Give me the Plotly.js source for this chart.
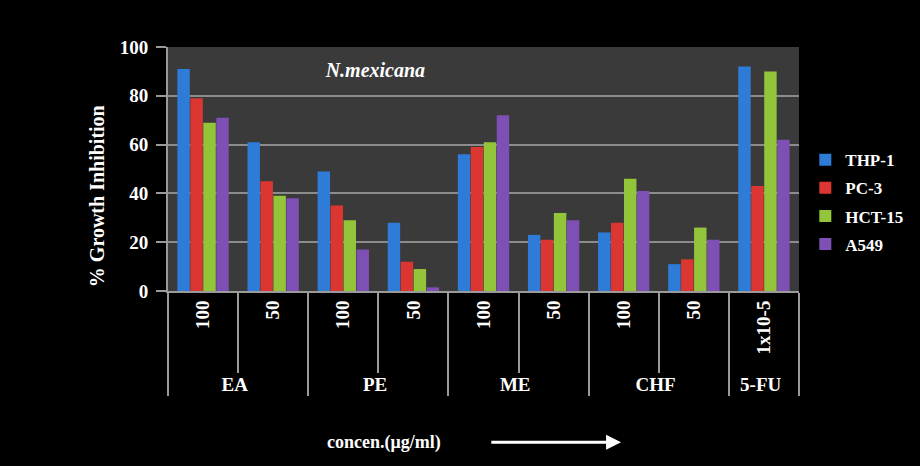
<!DOCTYPE html>
<html>
<head>
<meta charset="utf-8">
<script src="https://cdn.plot.ly/plotly-3.0.1.min.js"></script>
<style>html,body{margin:0;padding:0;background:#000;}#chart{width:920px;height:466px;}</style>
</head>
<body>
<div id="chart"></div>
<script>
// Data
const groups = ["EA", "EA", "PE", "PE", "ME", "ME", "CHF", "CHF", "5-FU"];
const concentrations = ["100", "50", "100", "50", "100", "50", "100", "50", "1x10-5"];
const seriesNames = ["THP-1", "PC-3", "HCT-15", "A549"];
const thp1  = [91, 61, 49, 28, 56, 23, 24, 11, 92];
const pc3   = [79, 45, 35, 12, 59, 21, 28, 13, 43];
const hct15 = [69, 39, 29, 9, 61, 32, 46, 26, 90];
const a549  = [71, 38, 17, 1.5, 72, 29, 41, 21, 62];
const yTicks = [0, 20, 40, 60, 80, 100];

const colors = ["#2f7bd8", "#dc3632", "#93c53a", "#7e4fb5"];
const values = [thp1, pc3, hct15, a549];
const serif = "Liberation Serif, Times New Roman, serif";

const traces = values.map((v, i) => ({
  type: "bar",
  name: seriesNames[i],
  x: [groups, concentrations],
  y: v,
  marker: {color: colors[i], line: {width: 0}},
  legendgroup: "g" + i
}));

const layout = {
  width: 920, height: 466,
  paper_bgcolor: "#000000",
  plot_bgcolor: "#3a3a3a",
  margin: {l: 168, r: 118, t: 47, b: 175},
  bargap: 0.26,
  bargroupgap: 0.04,
  showlegend: true,
  title: {
    text: "<b><i>N.mexicana</i></b>",
    font: {family: serif, size: 20, color: "#ffffff"},
    x: 0.408, xanchor: "center", y: 0.85, yanchor: "middle"
  },
  legend: {
    x: 1.01, xanchor: "left", y: 0.61, yanchor: "top",
    font: {family: serif, size: 17, color: "#ffffff", weight: "bold"},
    bgcolor: "rgba(0,0,0,0)",
    traceorder: "grouped",
    tracegroupgap: 3,
    itemwidth: 30
  },
  xaxis: {
    type: "multicategory",
    tickangle: -90,
    tickfont: {family: serif, size: 19, color: "#ffffff", weight: "bold"},
    showline: true, linecolor: "#9a9a9a", linewidth: 2,
    ticks: "outside", ticklen: 80, tickcolor: "#9a9a9a", tickwidth: 2,
    showdividers: true, dividercolor: "#9a9a9a", dividerwidth: 2,
    showgrid: false
  },
  yaxis: {
    range: [0, 100],
    tickvals: yTicks,
    ticktext: yTicks.map(String),
    tickfont: {family: serif, size: 19, color: "#ffffff", weight: "bold"},
    showline: true, linecolor: "#9a9a9a", linewidth: 2,
    ticks: "outside", ticklen: 10, tickcolor: "#9a9a9a", tickwidth: 2,
    ticklabelstandoff: 4,
    gridcolor: "#8c8c8c", gridwidth: 2,
    zeroline: false
  },
  annotations: [
    {
      xref: "paper", yref: "paper", x: -0.112, y: 0.39,
      text: "<b>% Growth Inhibition</b>", showarrow: false, textangle: -90,
      font: {family: serif, size: 20, color: "#ffffff"},
      xanchor: "center", yanchor: "middle"
    },
    {
      xref: "paper", yref: "paper", x: 0.343, y: -0.62,
      text: "<b>concen.(μg/ml)</b>", showarrow: false,
      font: {family: serif, size: 18, color: "#ffffff"},
      xanchor: "center", yanchor: "middle"
    },
    {
      xref: "paper", yref: "paper", x: 0.718, y: -0.62,
      ax: 0.51, ay: -0.62, axref: "paper", ayref: "paper",
      text: "", showarrow: true, arrowhead: 2, arrowsize: 1, arrowwidth: 3,
      arrowcolor: "#ffffff"
    }
  ]
};

Plotly.newPlot("chart", traces, layout, {displayModeBar: false, staticPlot: true});
</script>
</body>
</html>
